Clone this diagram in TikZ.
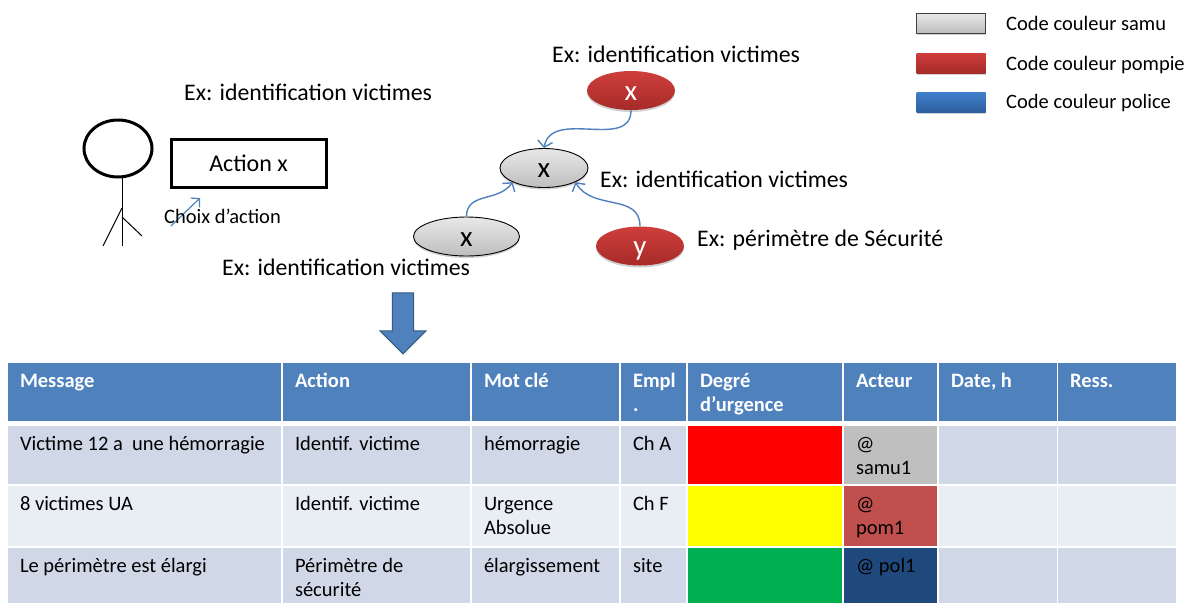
\documentclass[tikz,border=0pt]{standalone}
\usepackage{fontspec}
\setmainfont{Carlito}
\usepackage{xcolor}
\usetikzlibrary{arrows.meta,shapes.geometric,shapes.arrows,shadows}

\definecolor{headblue}{HTML}{4F81BD}
\definecolor{rowdark}{HTML}{D0D8E8}
\definecolor{rowlight}{HTML}{E9EDF4}
\definecolor{samugray}{HTML}{BFBFBF}
\definecolor{pomred}{HTML}{C0504D}
\definecolor{polblue}{HTML}{1F497D}
\definecolor{urgred}{HTML}{FF0000}
\definecolor{urgyellow}{HTML}{FFFF00}
\definecolor{urggreen}{HTML}{00B050}
\definecolor{graytop}{HTML}{E8E8E8}
\definecolor{graybot}{HTML}{BEBEBE}
\definecolor{redtop}{HTML}{CF3E3B}
\definecolor{redbot}{HTML}{A52B29}
\definecolor{bluetop}{HTML}{3F80CC}
\definecolor{bluebot}{HTML}{2E5F9F}

\tikzset{
    softshadow/.style={drop shadow={shadow xshift=0pt, shadow yshift=-2pt, opacity=0.18, fill=black}},
    grayfill/.style={top color=graytop, bottom color=graybot, softshadow},
    redfill/.style={top color=redtop, bottom color=redbot, softshadow},
    bluefill/.style={top color=bluetop, bottom color=bluebot, softshadow},
    oval/.style={ellipse, inner sep=0pt, minimum width=88pt, minimum height=39pt, text height=19pt, text depth=0pt, font=\fontsize{29}{29}\selectfont},
    grayoval/.style={oval, draw=black, line width=0.9pt, grayfill},
    redoval/.style={oval, redfill, text=white},
    legendbox/.style={rectangle, minimum width=69pt, minimum height=20pt, inner sep=0pt},
    bigtext/.style={anchor=base west, inner sep=0pt, font=\fontsize{23.8}{24}\selectfont},
    legendtext/.style={anchor=base west, inner sep=0pt, font=\fontsize{20.5}{22}\selectfont},
    bluelink/.style={draw=headblue, line width=1.4pt, -{Straight Barb[length=6pt,width=15pt]}},
    tablecell/.style={anchor=north west, inner xsep=12pt, inner ysep=0pt, outer sep=0pt, rectangle},
    headcell/.style={tablecell, fill=headblue, text=white, font=\fontsize{20.5}{24.5}\selectfont\bfseries},
    bodycell/.style={tablecell, font=\fontsize{20.5}{24.5}\selectfont}
}

\newcommand{\tabcell}[7]{%
    \node[#6] (#1) at (#2,#3) {\parbox[c][#5pt][t]{\dimexpr#4pt-24pt\relax}{\raggedright\vspace{7pt}\strut #7}};
}

\begin{document}
\begin{tikzpicture}[x=1pt, y=-1pt]
    \useasboundingbox (0,0) rectangle (1185,603);

    % stick figure
    \node[ellipse, draw, line width=3pt, minimum width=68pt, minimum height=57pt, inner sep=0pt] (head) at (118,148.5) {};
    \coordinate (neck) at (122,178);
    \coordinate (hip) at (122,208);
    \coordinate (hipb) at (122,217);
    \coordinate (footl) at (103,246);
    \coordinate (footm) at (122,246);
    \coordinate (footr) at (142,236);
    \draw[line width=1pt] (neck) -- (footm);
    \draw[line width=1pt] (hip) -- (footl);
    \draw[line width=1pt] (hipb) -- (footr);

    \node[rectangle, draw, line width=3pt, minimum width=155pt, minimum height=48pt, font=\fontsize{24}{24}\selectfont] (action) at (248.5,163.5) {Action x};
    \coordinate (choixa) at (171,226);
    \coordinate (choixb) at (200,198);
    \draw[draw=headblue, line width=1.2pt, -{Straight Barb[length=6pt,width=13pt]}] (choixa) -- (choixb);
    \node[legendtext] (choix) at (164,223) {Choix d’action};
    \node[bigtext] (exfig) at (184,100) {Ex: identification victimes};

    % graph of actions
    \node[redoval] (xtop) at (631,90.5) {x};
    \node[grayoval] (xmid) at (544,168) {x};
    \node[grayoval, minimum width=106pt] (xleft) at (466.5,236.5) {x};
    \node[redoval] (ysec) at (640,246) {y};
    \draw[bluelink] (xtop.south) to[out=-90, in=80, looseness=1.1] (xmid.north);
    \draw[bluelink] (xleft.north) to[out=90, in=-125, looseness=1.1] (xmid.south west);
    \draw[bluelink] (ysec.north) to[out=90, in=-60, looseness=1.1] (xmid.south east);
    \node[bigtext] (extop) at (552,62) {Ex: identification victimes};
    \node[bigtext] (exmid) at (600,187.5) {Ex: identification victimes};
    \node[bigtext] (exleft) at (222,275) {Ex: identification victimes};
    \node[bigtext] (exsec) at (697,246) {Ex: périmètre de Sécurité};

    % legend
    \node[legendbox, draw=black!75, line width=1pt, grayfill] (legsamu) at (951,23) {};
    \node[legendbox, redfill] (legpom) at (951,63) {};
    \node[legendbox, bluefill] (legpol) at (951,102) {};
    \node[legendtext] (txtsamu) at (1006,30) {Code couleur samu};
    \node[legendtext] (txtpom) at (1006,70) {Code couleur pompie};
    \node[legendtext] (txtpol) at (1006,108.5) {Code couleur police};

    \node[single arrow, fill=headblue, draw=headblue!70!black, line width=1pt, shape border rotate=270,
        minimum width=46pt, minimum height=61pt, inner sep=10pt, single arrow head extend=12pt, single arrow tip angle=90] (down) at (403,318) {};

    % table
    \tabcell{hmsg}{8}{363}{273}{58}{headcell}{Message}
    \tabcell{hact}{283}{363}{187}{58}{headcell}{Action}
    \tabcell{hmot}{472}{363}{147}{58}{headcell}{Mot clé}
    \tabcell{hemp}{621}{363}{65}{58}{headcell}{Empl\\.}
    \tabcell{hdeg}{688}{363}{154}{58}{headcell}{Degré\\d’urgence}
    \tabcell{hacr}{844}{363}{93}{58}{headcell}{Acteur}
    \tabcell{hdat}{939}{363}{118}{58}{headcell}{Date, h}
    \tabcell{hres}{1058}{363}{118}{58}{headcell}{Ress.}

    \tabcell{amsg}{8}{426}{273}{58}{bodycell, fill=rowdark}{Victime 12 a~ une hémorragie}
    \tabcell{aact}{283}{426}{187}{58}{bodycell, fill=rowdark}{Identif. victime}
    \tabcell{amot}{472}{426}{147}{58}{bodycell, fill=rowdark}{hémorragie}
    \tabcell{aemp}{621}{426}{65}{58}{bodycell, fill=rowdark}{Ch A}
    \tabcell{adeg}{688}{426}{154}{58}{bodycell, fill=urgred}{}
    \tabcell{aacr}{844}{426}{93}{58}{bodycell, fill=samugray}{@\\samu1}
    \tabcell{adat}{939}{426}{118}{58}{bodycell, fill=rowdark}{}
    \tabcell{ares}{1058}{426}{118}{58}{bodycell, fill=rowdark}{}

    \tabcell{bmsg}{8}{486}{273}{60}{bodycell, fill=rowlight}{8 victimes UA}
    \tabcell{bact}{283}{486}{187}{60}{bodycell, fill=rowlight}{Identif. victime}
    \tabcell{bmot}{472}{486}{147}{60}{bodycell, fill=rowlight}{Urgence\\Absolue}
    \tabcell{bemp}{621}{486}{65}{60}{bodycell, fill=rowlight}{Ch F}
    \tabcell{bdeg}{688}{486}{154}{60}{bodycell, fill=urgyellow}{}
    \tabcell{bacr}{844}{486}{93}{60}{bodycell, fill=pomred}{@\\pom1}
    \tabcell{bdat}{939}{486}{118}{60}{bodycell, fill=rowlight}{}
    \tabcell{bres}{1058}{486}{118}{60}{bodycell, fill=rowlight}{}

    \tabcell{cmsg}{8}{548}{273}{55}{bodycell, fill=rowdark}{Le périmètre est élargi}
    \tabcell{cact}{283}{548}{187}{55}{bodycell, fill=rowdark}{Périmètre de\\sécurité}
    \tabcell{cmot}{472}{548}{147}{55}{bodycell, fill=rowdark}{élargissement}
    \tabcell{cemp}{621}{548}{65}{55}{bodycell, fill=rowdark}{site}
    \tabcell{cdeg}{688}{548}{154}{55}{bodycell, fill=urggreen}{}
    \tabcell{cacr}{844}{548}{93}{55}{bodycell, fill=polblue}{@ pol1}
    \tabcell{cdat}{939}{548}{118}{55}{bodycell, fill=rowdark}{}
    \tabcell{cres}{1058}{548}{118}{55}{bodycell, fill=rowdark}{}
\end{tikzpicture}
\end{document}
